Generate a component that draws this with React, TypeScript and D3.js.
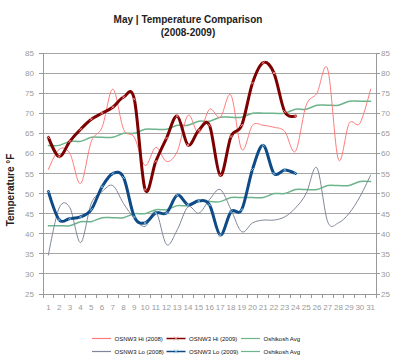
import * as d3 from 'd3';

// daily values, May (day 1..31)
const days = d3.range(1, 32);
const hi2008 = [56, 61, 60, 52.5, 63, 66.5, 76, 66, 64, 57, 61.5, 58, 60.5, 69.5, 65, 71, 69, 74.5, 61, 67, 67, 66.5, 65.5, 60.5, 72, 75, 81, 58.5, 67.5, 67.5, 76];
const hi2009 = [64, 59.2, 63, 66, 68.5, 70, 71.5, 74, 73.5, 51, 58, 63.8, 69.3, 62.1, 65.8, 67, 54.5, 64.2, 67, 77.5, 82.6, 80, 70.4, 69.3];
const avgHi = [62, 62, 63, 63, 64, 64, 64, 65, 65, 66, 66, 66, 67, 67, 68, 68, 69, 69, 69, 70, 70, 70, 70, 71, 71, 72, 72, 72, 73, 73, 73];
const lo2008 = [34.7, 46.4, 46.5, 37.8, 47.6, 50.5, 52, 47.5, 43.9, 41.8, 45.5, 37.3, 41, 46.7, 45.1, 48.5, 51, 46, 40.5, 42.7, 43.4, 43.4, 44.2, 46.4, 50, 56.4, 43, 42.7, 45.1, 49.2, 54.6];
const lo2009 = [50.5, 43.5, 43.8, 44.2, 46, 51.7, 55, 54, 44.2, 42.7, 45.2, 45.2, 49.6, 47.2, 48.2, 47.2, 39.7, 45.5, 46, 56, 62, 55, 55.9, 55];
const avgLo = [42, 42, 42, 43, 43, 44, 44, 44, 45, 45, 46, 46, 47, 47, 48, 48, 48, 49, 49, 49, 49, 50, 50, 51, 51, 51, 52, 52, 52, 53, 53];
const yTicks = d3.range(25, 90, 5);

const series = [
  { name: 'OSNW3 Hi (2008)', values: hi2008, color: '#ff7b7b', width: 1, marker: null },
  { name: 'OSNW3 Hi (2009)', values: hi2009, color: '#7d0000', width: 3, marker: '#ff9c9c' },
  { name: 'Oshikosh Avg', values: avgHi, color: '#6cb48a', width: 1.5, marker: null },
  { name: 'OSNW3 Lo (2008)', values: lo2008, color: '#7f8898', width: 1, marker: null },
  { name: 'OSNW3 Lo (2009)', values: lo2009, color: '#0d4a86', width: 3, marker: '#8ec4e4' },
  { name: 'Oshikosh Avg', values: avgLo, color: '#6cb48a', width: 1.5, marker: null },
];

const font = "'Liberation Sans', Arial, sans-serif";

export default function App() {
  const left = 43, right = 376, top = 53, bottom = 294;

  const x = d3.scaleBand<number>().domain(days).range([left, right]).padding(0);
  const cx = (d: number) => (x(d) as number) + x.bandwidth() / 2;
  const y = d3.scaleLinear().domain([25, 85]).range([bottom, top]);

  const line = d3.line<number>()
    .x((_, i) => cx(days[i]))
    .y(v => y(v))
    .curve(d3.curveCardinal.tension(0));

  // draw order: thin lines first, thick on top
  const order = [2, 5, 0, 3, 4, 1];

  return (
    <div style={{ position: 'fixed', left: 0, top: 0 }}>
      <svg width={400} height={363} style={{ display: 'block', background: '#fff' }} fontFamily={font}>
        <text x={188} y={23} textAnchor="middle" fontSize={10} fontWeight="bold" fill="#222">May | Temperature Comparison</text>
        <text x={188} y={36} textAnchor="middle" fontSize={10} fontWeight="bold" fill="#222">(2008-2009)</text>

        {/* grid */}
        {yTicks.map(t => (
          <g key={t}>
            <line x1={left} x2={right} y1={y(t)} y2={y(t)} stroke="#a6a6a6" strokeWidth={1} shapeRendering="crispEdges" />
            <line x1={left - 4} x2={left} y1={y(t)} y2={y(t)} stroke="#999" shapeRendering="crispEdges" />
            <line x1={right} x2={right + 4} y1={y(t)} y2={y(t)} stroke="#999" shapeRendering="crispEdges" />
            <text x={left - 9} y={y(t) + 3} textAnchor="end" fontSize={8} fill="#9a9a9a">{t}</text>
            <text x={right + 5} y={y(t) + 3} textAnchor="start" fontSize={8} fill="#9a9a9a">{t}</text>
          </g>
        ))}
        <line x1={left} x2={left} y1={top} y2={bottom} stroke="#999" shapeRendering="crispEdges" />
        <line x1={right} x2={right} y1={top} y2={bottom} stroke="#999" shapeRendering="crispEdges" />
        <line x1={left} x2={right} y1={bottom} y2={bottom} stroke="#999" shapeRendering="crispEdges" />
        {days.map(d => (
          <g key={d}>
            <line x1={(x(d) as number) + x.bandwidth()} x2={(x(d) as number) + x.bandwidth()} y1={bottom} y2={bottom + 4} stroke="#999" shapeRendering="crispEdges" />
            <text x={cx(d)} y={310} textAnchor="middle" fontSize={8} fill="#9a9a9a">{d}</text>
          </g>
        ))}
        <line x1={left} x2={left} y1={bottom} y2={bottom + 4} stroke="#999" shapeRendering="crispEdges" />

        <text transform={`translate(14,190) rotate(-90)`} textAnchor="middle" fontSize={10} fontWeight="bold" fill="#222">Temperature °F</text>

        {/* series */}
        {order.map(k => {
          const s = series[k];
          return (
            <g key={k}>
              <path d={line(s.values) || ''} fill="none" stroke={s.color} strokeWidth={s.width} strokeLinejoin="round" strokeLinecap="round" />
              {s.marker && s.values.map((v, i) => (
                <path key={i} d={`M${cx(days[i]) - 1.5},${y(v) - 1.5}L${cx(days[i]) + 1.5},${y(v) + 1.5}M${cx(days[i]) - 1.5},${y(v) + 1.5}L${cx(days[i]) + 1.5},${y(v) - 1.5}`} stroke={s.marker} strokeWidth={0.8} />
              ))}
            </g>
          );
        })}

        {/* legend */}
        {series.map((s, i) => {
          const col = i % 3, row = Math.floor(i / 3);
          const lx = 92 + col * 74.5;
          const ly = 338.5 + row * 13;
          return (
            <g key={i}>
              <line x1={lx} x2={lx + 19} y1={ly} y2={ly} stroke={s.color} strokeWidth={s.width > 2 ? 1.5 : 1.2} />
              {s.marker && (
                <path d={`M${lx + 7.5},${ly - 2}L${lx + 11.5},${ly + 2}M${lx + 7.5},${ly + 2}L${lx + 11.5},${ly - 2}`} stroke={s.marker} strokeWidth={1} />
              )}
              <text x={lx + 22.5} y={ly + 2.2} fontSize={6} fill="#111">{s.name}</text>
            </g>
          );
        })}
      </svg>
    </div>
  );
}
